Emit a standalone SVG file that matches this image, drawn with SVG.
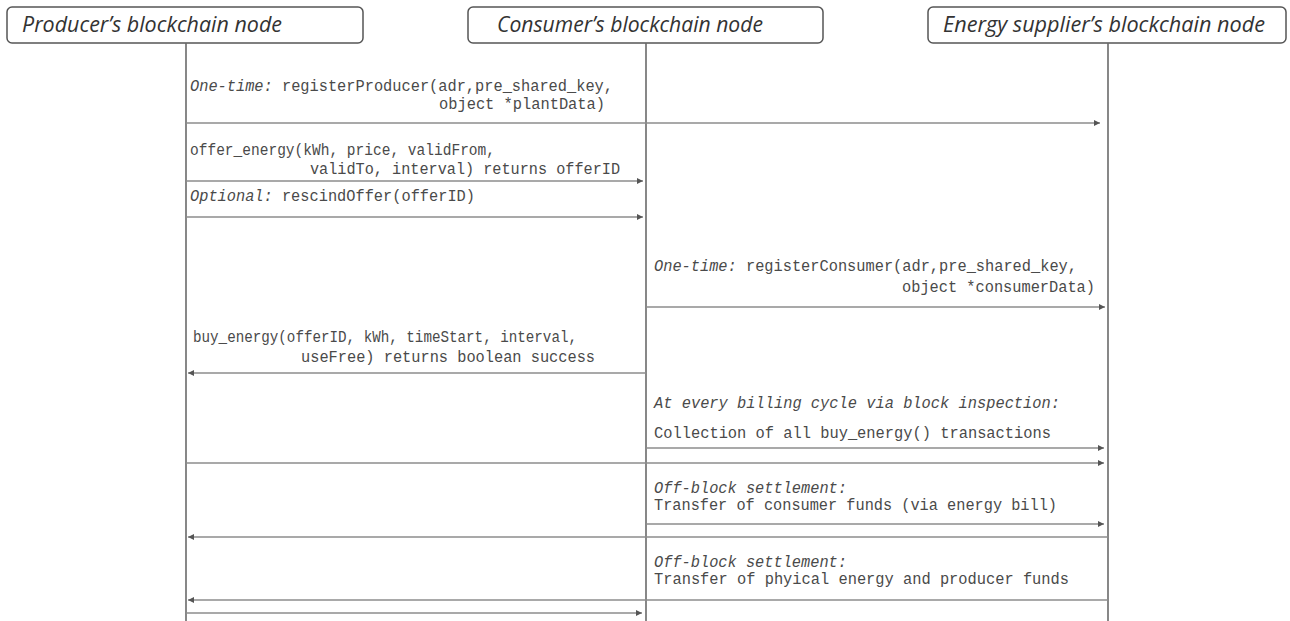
<svg xmlns="http://www.w3.org/2000/svg" width="1290" height="621" viewBox="0 0 1290 621">
<style>
.box{fill:#fff;stroke:#555;stroke-width:1.5}
.life{stroke:#6a6a6a;stroke-width:1.6;fill:none}
.msg{stroke:#8c8c8c;stroke-width:1.5;fill:none;marker-end:url(#ah)}
.head{font-family:"Open Sans","Liberation Sans",sans-serif;font-style:italic;font-size:21px;fill:#333}
.t{font-family:"Liberation Mono","DejaVu Sans Mono",monospace;font-size:16px;fill:#4a4a4a}
.i{font-style:italic}
.end{text-anchor:end}
</style>
<defs>
<marker id="ah" viewBox="0 0 10 10" refX="10" refY="5" markerWidth="8" markerHeight="6" markerUnits="userSpaceOnUse" orient="auto">
<path d="M0,0 L10,5 L0,10 z" fill="#555"/>
</marker>
</defs>
<rect width="1290" height="621" fill="#fff"/>
<g id="producer">
<rect class="box" x="7" y="7" width="356" height="36" rx="5"/>
<text class="head" x="22" y="32" textLength="260" lengthAdjust="spacingAndGlyphs">Producer’s blockchain node</text>
<line class="life" x1="186" y1="43" x2="186" y2="621"/>
</g>
<g id="consumer">
<rect class="box" x="468" y="7" width="355" height="36" rx="5"/>
<text class="head" x="497" y="32" textLength="266" lengthAdjust="spacingAndGlyphs">Consumer’s blockchain node</text>
<line class="life" x1="646" y1="43" x2="646" y2="621"/>
</g>
<g id="supplier">
<rect class="box" x="928" y="7" width="358" height="36" rx="5"/>
<text class="head" x="943" y="32" textLength="322" lengthAdjust="spacingAndGlyphs">Energy supplier’s blockchain node</text>
<line class="life" x1="1108" y1="43" x2="1108" y2="621"/>
</g>
<g id="connectors">
<line class="msg" x1="186" y1="123" x2="1100" y2="123"/>
<line class="msg" x1="186" y1="181" x2="643" y2="181"/>
<line class="msg" x1="186" y1="217" x2="643" y2="217"/>
<line class="msg" x1="646" y1="307" x2="1105" y2="307"/>
<line class="msg" x1="646" y1="373" x2="188" y2="373"/>
<line class="msg" x1="646" y1="448" x2="1104" y2="448"/>
<line class="msg" x1="186" y1="463" x2="1104" y2="463"/>
<line class="msg" x1="646" y1="524" x2="1104" y2="524"/>
<line class="msg" x1="1108" y1="537" x2="188" y2="537"/>
<line class="msg" x1="1108" y1="600" x2="188" y2="600"/>
<line class="msg" x1="186" y1="613" x2="642" y2="613"/>
</g>
<g id="labels">
<text class="t" x="190" y="91" textLength="423" lengthAdjust="spacingAndGlyphs"><tspan class="i">One-time:</tspan> registerProducer(adr,pre_shared_key,</text>
<text class="t end" x="605" y="109" textLength="166" lengthAdjust="spacingAndGlyphs">object *plantData)</text>
<text class="t" x="190" y="155" textLength="305" lengthAdjust="spacingAndGlyphs">offer_energy(kWh, price, validFrom,</text>
<text class="t end" x="620" y="174" textLength="310" lengthAdjust="spacingAndGlyphs">validTo, interval) returns offerID</text>
<text class="t" x="190" y="201" textLength="285" lengthAdjust="spacingAndGlyphs"><tspan class="i">Optional:</tspan> rescindOffer(offerID)</text>
<text class="t" x="654" y="271" textLength="423" lengthAdjust="spacingAndGlyphs"><tspan class="i">One-time:</tspan> registerConsumer(adr,pre_shared_key,</text>
<text class="t end" x="1095" y="292" textLength="193" lengthAdjust="spacingAndGlyphs">object *consumerData)</text>
<text class="t" x="193" y="342" textLength="384" lengthAdjust="spacingAndGlyphs">buy_energy(offerID, kWh, timeStart, interval,</text>
<text class="t end" x="595" y="362" textLength="294" lengthAdjust="spacingAndGlyphs">useFree) returns boolean success</text>
<text class="t i" x="654" y="408" textLength="406" lengthAdjust="spacingAndGlyphs">At every billing cycle via block inspection:</text>
<text class="t" x="654" y="438" textLength="397" lengthAdjust="spacingAndGlyphs">Collection of all buy_energy() transactions</text>
<text class="t i" x="654" y="493" textLength="193" lengthAdjust="spacingAndGlyphs">Off-block settlement:</text>
<text class="t" x="654" y="510" textLength="403" lengthAdjust="spacingAndGlyphs">Transfer of consumer funds (via energy bill)</text>
<text class="t i" x="654" y="567" textLength="193" lengthAdjust="spacingAndGlyphs">Off-block settlement:</text>
<text class="t" x="654" y="584" textLength="415" lengthAdjust="spacingAndGlyphs">Transfer of phyical energy and producer funds</text>
</g>
</svg>
